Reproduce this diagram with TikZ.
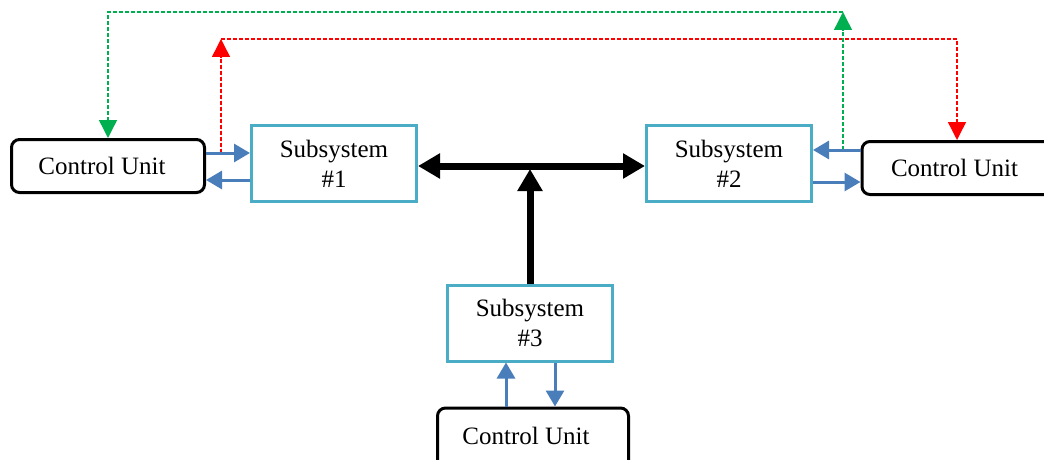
\documentclass[tikz,border=0pt]{standalone}
\usepackage{fontspec}
\setmainfont{Liberation Serif}
\usetikzlibrary{arrows.meta}
\definecolor{blu}{HTML}{4A7EBB}
\definecolor{aqua}{HTML}{4BACC6}
\definecolor{grn}{HTML}{00B050}
\definecolor{rd}{HTML}{FF0000}
\begin{document}
\begin{tikzpicture}[x=1pt,y=-1pt,
  every node/.style={font=\fontsize{25}{30}\selectfont},
  sub/.style={draw=aqua, line width=3pt, minimum width=165pt, minimum height=76pt, align=center, inner sep=0pt},
  cu/.style={draw=black, line width=3pt, rounded corners=8pt, inner sep=0pt},
  barrow/.style={draw=blu, line width=3pt, -{Triangle[length=16pt,width=18pt]}},
  karrow/.style={draw=black, line width=7pt},
  khead/.style={-{Triangle[length=22pt,width=24pt]}},
  dashln/.style={line width=1.4pt, dash pattern=on 4pt off 2pt},
  dhead/.style={-{Triangle[length=18pt,width=18pt]}}
]
\useasboundingbox (0,0) rectangle (1044,460);
\clip (0,0) rectangle (1044,460);

% nodes
\node[cu, minimum width=193pt, minimum height=53pt] (cu1) at (108,166) {Control Unit\hspace*{12pt}};
\node[cu, anchor=west, minimum height=53pt, minimum width=230pt] (cu2) at (860.5,168) {\makebox[172pt][l]{Control Unit}};
\node[cu, anchor=north, minimum width=191pt, inner ysep=18.5pt, text height=18pt, text depth=40pt] (cu3) at (533,406.5) {Control Unit\hspace*{14pt}};
\node[sub] (s1) at (334,163.5) {Subsystem\\\#1};
\node[sub] (s2) at (729,163.5) {Subsystem\\\#2};
\node[sub] (s3) at (530,323) {Subsystem\\\#3};

% helper coordinates
\coordinate (y153) at (0,153);
\coordinate (y180) at (0,180);
\coordinate (y150) at (0,150);
\coordinate (y182) at (0,182);
\coordinate (y166) at (0,166);
\coordinate (y169) at (0,169);
\coordinate (x506) at (506,0);
\coordinate (x555) at (555,0);
\coordinate (x957) at (957,0);
\coordinate (rstart) at (221,153);
\coordinate (rcorner) at (221,39);
\coordinate (gstart) at (843,150);
\coordinate (gcorner) at (843,12);

% dashed feedback lines
\draw[dashln, draw=rd, fill=rd, dhead] (rstart) -- (rcorner);
\draw[dashln, draw=rd, dhead] (rcorner) -| (cu2.north -| x957);
\draw[dashln, draw=grn, dhead] (gstart) -- (gcorner);
\draw[dashln, draw=grn, dhead] (gcorner) -| (cu1.north);

% blue arrows
\draw[barrow] (cu1.east |- y153) -- (s1.west |- y153);
\draw[barrow] (s1.west |- y180) -- (cu1.east |- y180);
\draw[barrow] (cu2.west |- y150) -- (s2.east |- y150);
\draw[barrow] (s2.east |- y182) -- (cu2.west |- y182);
\draw[barrow] (cu3.north -| x506) -- (s3.south -| x506);
\draw[barrow] (s3.south -| x555) -- (cu3.north -| x555);

% black bus
\draw[karrow, {Triangle[length=22pt,width=24pt]}-{Triangle[length=22pt,width=24pt]}] (s1.east |- y166) -- (s2.west |- y166);
\draw[karrow, khead] (s3.north) -- (s3.north |- y169);
\end{tikzpicture}
\end{document}
